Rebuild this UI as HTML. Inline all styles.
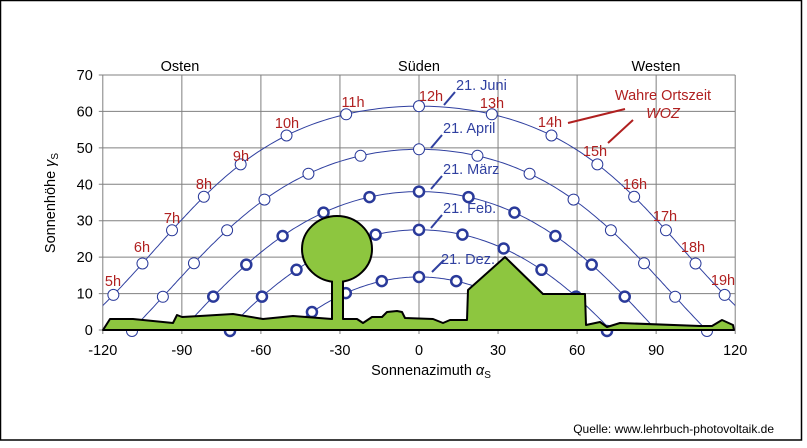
<!DOCTYPE html>
<html><head><meta charset="utf-8"><style>
html,body{margin:0;padding:0;background:#fff}
svg{display:block;font-family:"Liberation Sans",Arial,sans-serif}
</style></head><body>
<svg id="s" width="807" height="448" xmlns="http://www.w3.org/2000/svg">
<rect x="0.5" y="0.5" width="801" height="439.5" fill="#fff" stroke="#000" stroke-width="1.5"/>
<g id="grid" stroke="#808080" stroke-width="1"></g>
<g font-size="14.5" fill="#000">
<text x="180" y="71" text-anchor="middle">Osten</text>
<text x="419" y="71" text-anchor="middle">Süden</text>
<text x="656" y="71" text-anchor="middle">Westen</text>
<text x="431" y="375" text-anchor="middle">Sonnenazimuth <tspan font-style="italic">α</tspan><tspan font-size="10" dy="3">S</tspan></text>
<text transform="translate(55,203) rotate(-90)" text-anchor="middle">Sonnenhöhe <tspan font-style="italic">γ</tspan><tspan font-size="10" dy="3">S</tspan></text>
<text x="774" y="433" font-size="12" text-anchor="end">Quelle: www.lehrbuch-photovoltaik.de</text>
</g>
<g id="ticks" font-size="14.5" fill="#000"></g>
<g id="curves"></g>
<g id="land"></g>
<g id="labels" font-size="14.5"></g>
</svg>
<script>
var NS="http://www.w3.org/2000/svg";
function X(a){return 419+a*2.635;}
function Y(h){return 330-h*3.643;}
function el(p,t,at,txt){var e=document.createElementNS(NS,t);for(var k in at)e.setAttribute(k,at[k]);if(txt!=null)e.textContent=txt;document.getElementById(p).appendChild(e);return e;}
for(var a=-120;a<=120;a+=30){el("grid","line",{x1:X(a),x2:X(a),y1:Y(70),y2:Y(0)+4});el("ticks","text",{x:X(a),y:355,"text-anchor":"middle"},a);}
for(var h=0;h<=70;h+=10){el("grid","line",{x1:X(-120)-4,x2:X(120),y1:Y(h),y2:Y(h)});el("ticks","text",{x:X(-120)-10,y:Y(h)+5,"text-anchor":"end"},h);}
var phi=52*Math.PI/180;
function pos(dec,w){var d=dec*Math.PI/180,o=w*Math.PI/180;
var sh=Math.sin(phi)*Math.sin(d)+Math.cos(phi)*Math.cos(d)*Math.cos(o);var h=Math.asin(sh);
var az=Math.atan2(Math.sin(o),Math.cos(o)*Math.sin(phi)-Math.tan(d)*Math.cos(phi));
return [az*180/Math.PI,h*180/Math.PI];}
var decs=[[23.44,1],[11.6,1],[0,2.5],[-10.5,2.5],[-23.44,2.5]];
el("curves","clipPath",{id:"cp"});
el("cp","rect",{x:X(-120),y:Y(70),width:X(120)-X(-120),height:Y(0)-Y(70)});
decs.forEach(function(dd){
 var pts=[];for(var w=-140;w<=140;w+=1){var p=pos(dd[0],w);if(p[1]>-2&&Math.abs(p[0])<=121)pts.push(X(p[0]).toFixed(1)+","+Y(p[1]).toFixed(1));}
 el("curves","polyline",{points:pts.join(" "),fill:"none",stroke:"#3040a0","stroke-width":1,"clip-path":"url(#cp)"});
 for(var hr=-9;hr<=9;hr++){var p=pos(dd[0],hr*15);if(p[1]>0.8&&Math.abs(p[0])<=120)el("curves","circle",{cx:X(p[0]),cy:Y(p[1]),r:dd[1]>1?5:5.5,fill:"#fff",stroke:"#2a3a9a","stroke-width":dd[1]});}
});
[[132,1],[707,1],[230,2.5],[607,2.5]].forEach(function(c){el("curves","circle",{cx:c[0],cy:331,r:c[1]>1?5:5.5,fill:"#fff",stroke:"#2a3a9a","stroke-width":c[1]});});
var land="103,330 110,319 133,319 173,323 177,315 182,317 200,316 233,314 263,319 293,316 332,319 332,282 343,282 343,319 357,319 363,323 372,317 382,317 387,312 397,311 402,312 405,318 433,319 443,323 450,320 467,320 468,290 505,257 543,294 585,294 586,325 600,322 607,327 620,323 700,326 712,326 722,320 733,325 734,330";
el("land","polygon",{points:land,fill:"#8dc63f",stroke:"#000","stroke-width":2,"stroke-linejoin":"round"});
el("land","ellipse",{cx:337,cy:249,rx:35,ry:33,fill:"#8dc63f",stroke:"#000","stroke-width":2});
el("land","rect",{x:333,y:278,width:9,height:10,fill:"#8dc63f"});
el("land","line",{x1:103,y1:330,x2:734,y2:330,stroke:"#000","stroke-width":2});
var red="#b02020";
[["5h",113,286],["6h",142,252],["7h",172,223],["8h",204,189],["9h",241,161],["10h",287,128],["11h",353,107],["12h",431,101],["13h",492,108],["14h",550,127],["15h",595,156],["16h",635,189],["17h",665,221],["18h",693,252],["19h",723,285]].forEach(function(t){el("labels","text",{x:t[1],y:t[2],fill:red,"text-anchor":"middle"},t[0]);});
el("labels","text",{x:663,y:100,fill:red,"text-anchor":"middle"},"Wahre Ortszeit");
el("labels","text",{x:663,y:118,fill:red,"text-anchor":"middle","font-style":"italic"},"WOZ");
el("labels","line",{x1:568,y1:123,x2:625,y2:109,stroke:red,"stroke-width":2});
el("labels","line",{x1:608,y1:143,x2:633,y2:120,stroke:"#b02020","stroke-width":2});
var blue="#3040a0";
[["21. Juni",456,90,444,105,455,92],["21. April",443,133,431,148,442,135],["21. März",443,174,431,189,442,176],["21. Feb.",443,213,431,228,442,215],["21. Dez.",441,264,432,272,444,260]].forEach(function(t){
 el("labels","text",{x:t[1],y:t[2],fill:blue},t[0]);
 el("labels","line",{x1:t[3],y1:t[4],x2:t[5],y2:t[6],stroke:blue,"stroke-width":2});});
</script>
</body></html>
